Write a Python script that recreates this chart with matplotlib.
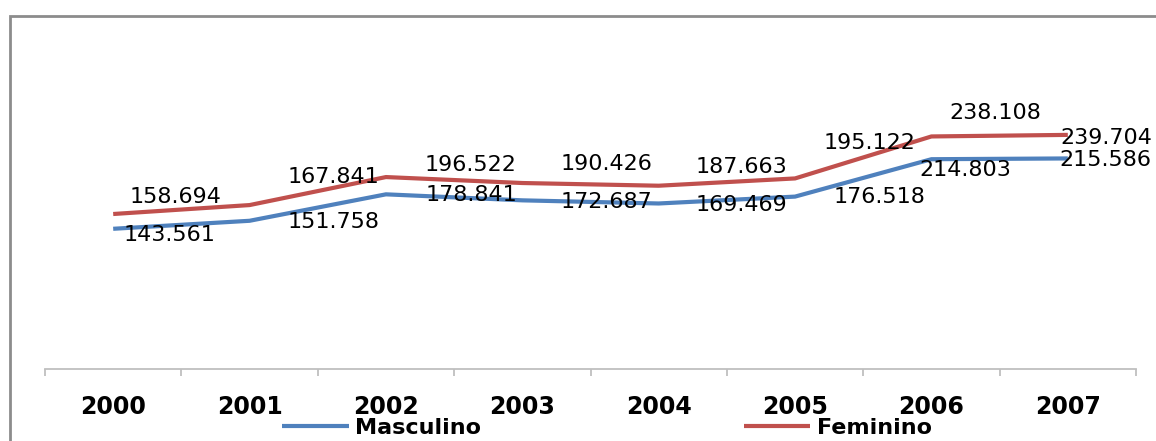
import matplotlib
matplotlib.use("Agg")
import matplotlib.pyplot as plt
from matplotlib.patches import Rectangle

# data
years = ["2000", "2001", "2002", "2003", "2004", "2005", "2006", "2007"]
masculino = [143561, 151758, 178841, 172687, 169469, 176518, 214803, 215586]
feminino = [158694, 167841, 196522, 190426, 187663, 195122, 238108, 239704]

blue = "#4F81BD"
red = "#C0504D"

fig = plt.figure(figsize=(11.56, 4.41), dpi=100)
W, H = 1156, 441
ax = fig.add_axes([45 / W, 1 - 369 / H, (1136 - 45) / W, (369 - 76) / H])

x = list(range(len(years)))
ax.plot(x, masculino, color=blue, lw=3, solid_capstyle="butt", label="Masculino")
ax.plot(x, feminino, color=red, lw=3, solid_capstyle="butt", label="Feminino")

ax.set_xlim(-0.5, len(years) - 0.5)
ax.set_ylim(0, 300000)


def fmt(v):
    return f"{v:,}".replace(",", ".")


# label offsets in pixels (dx right, dy up) from each point
off_f = [(62, 17), (84, 28), (85, 12), (84, 19), (83, 19), (74, 35), (64, 23), (38, -3)]
off_m = [(56, -6), (84, -1), (85, -1), (84, -2), (83, -2), (84, 0), (34, -11), (38, -2)]

for i in x:
    ax.annotate(fmt(feminino[i]), (i, feminino[i]), xytext=off_f[i],
                textcoords="offset pixels", ha="center", va="center",
                fontsize=16, color="black", annotation_clip=False)
    ax.annotate(fmt(masculino[i]), (i, masculino[i]), xytext=off_m[i],
                textcoords="offset pixels", ha="center", va="center",
                fontsize=16, color="black", annotation_clip=False)

for s in ["top", "right", "left"]:
    ax.spines[s].set_visible(False)
ax.spines["bottom"].set_color("#BFBFBF")
ax.spines["bottom"].set_linewidth(1.3)
ax.set_yticks([])

ax.set_xticks([i - 0.5 for i in range(len(years) + 1)])
ax.set_xticklabels([])
ax.tick_params(axis="x", which="major", length=5, width=1.3, color="#BFBFBF")
ax.set_xticks(x, minor=True)
ax.set_xticklabels(years, minor=True, fontsize=17, fontweight="bold")
ax.tick_params(axis="x", which="minor", length=0, pad=19)

leg = ax.legend(ncol=2, frameon=False, loc="center left",
                bbox_to_anchor=(282 / W, 1 - 428 / H), bbox_transform=fig.transFigure,
                borderpad=0, borderaxespad=0, handlelength=3.0, handletextpad=0.3,
                columnspacing=11.8, prop={"size": 16, "weight": "bold"})
for line in leg.get_lines():
    line.set_linewidth(3)

# outer chart border (cut off on the right and bottom)
fig.patches.append(Rectangle((10 / W, -0.2), 1.2, 1 - 16 / H + 0.2,
                             transform=fig.transFigure, fill=False,
                             edgecolor="#8C8C8C", lw=2, clip_on=False))

fig.savefig("out.png", dpi=100)
